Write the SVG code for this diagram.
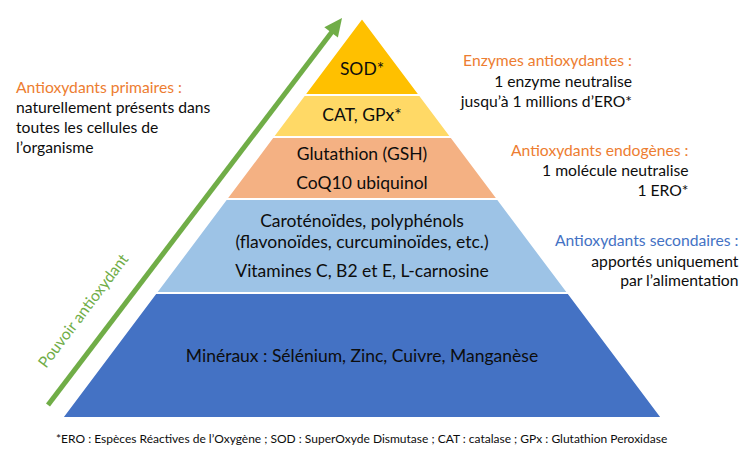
<svg xmlns="http://www.w3.org/2000/svg" width="750" height="460" viewBox="0 0 750 460">
<style>
text{font-family:Lato,"Liberation Sans",sans-serif;fill:#0d0d0d}
.lvl{font-size:17.5px;text-anchor:middle}
.ann{font-size:15.7px}
.r{text-anchor:end}
.or{fill:#ed7d31}
.bl{fill:#4472c4}
.gr{fill:#70ad47}
.ft{font-size:12px}
.layer{stroke:#fff;stroke-width:2}
</style>
<rect width="750" height="460" fill="#fff"/>
<g id="minraux">
<polygon class="layer" fill="#4472c4" points="155.75,293 568.25,293 662,418 62,418"/>
<text class="lvl" x="362" y="362">Minéraux : Sélénium, Zinc, Cuivre, Manganèse</text>
</g>
<g id="secondaires-layer">
<polygon class="layer" fill="#9dc3e6" points="226.25,199 497.75,199 568.25,293 155.75,293"/>
<text class="lvl" x="362" y="227">Caroténoïdes, polyphénols</text>
<text class="lvl" x="362" y="247.5">(flavonoïdes, curcuminoïdes, etc.)</text>
<text class="lvl" x="362" y="277">Vitamines C, B2 et E, L-carnosine</text>
</g>
<g id="endogenes-layer">
<polygon class="layer" fill="#f4b183" points="272.75,137 451.25,137 497.75,199 226.25,199"/>
<text class="lvl" x="362" y="160">Glutathion (GSH)</text>
<text class="lvl" x="362" y="188.5">CoQ10 ubiquinol</text>
</g>
<g id="cat-layer">
<polygon class="layer" fill="#ffd966" points="304.25,95 419.75,95 451.25,137 272.75,137"/>
<text class="lvl" x="362" y="121">CAT, GPx*</text>
</g>
<g id="sod-layer">
<polygon class="layer" fill="#ffc000" points="362,18 419.75,95 304.25,95"/>
<text class="lvl" x="362" y="75">SOD*</text>
</g>
<g id="connectors">
<line x1="48" y1="405" x2="333" y2="30.5" stroke="#70ad47" stroke-width="5"/>
<polygon fill="#70ad47" points="342,18 337.9,37.5 324.3,27.2"/>
</g>
<g id="pouvoir">
<text class="ann gr" transform="translate(46,369) rotate(-52.85)">Pouvoir antioxydant</text>
</g>
<g id="primaires">
<text class="ann or" x="16" y="92.7">Antioxydants primaires :</text>
<text class="ann" x="16" y="112.7">naturellement présents dans</text>
<text class="ann" x="16" y="132.7">toutes les cellules de</text>
<text class="ann" x="16" y="152.7">l’organisme</text>
</g>
<g id="enzymes">
<text class="ann or r" x="632" y="66">Enzymes antioxydantes :</text>
<text class="ann r" x="632" y="87">1 enzyme neutralise</text>
<text class="ann r" x="632" y="107">jusqu’à 1 millions d’ERO*</text>
</g>
<g id="endogenes">
<text class="ann or r" x="688.5" y="156">Antioxydants endogènes :</text>
<text class="ann r" x="688.5" y="176">1 molécule neutralise</text>
<text class="ann r" x="688.5" y="196">1 ERO*</text>
</g>
<g id="secondaires">
<text class="ann bl r" x="738.5" y="246">Antioxydants secondaires :</text>
<text class="ann r" x="738.5" y="266.5">apportés uniquement</text>
<text class="ann r" x="738.5" y="286">par l’alimentation</text>
</g>
<g id="footnote">
<text class="ft" x="56" y="443">*ERO : Espèces Réactives de l’Oxygène ; SOD : SuperOxyde Dismutase ; CAT : catalase ; GPx : Glutathion Peroxidase</text>
</g>
</svg>
